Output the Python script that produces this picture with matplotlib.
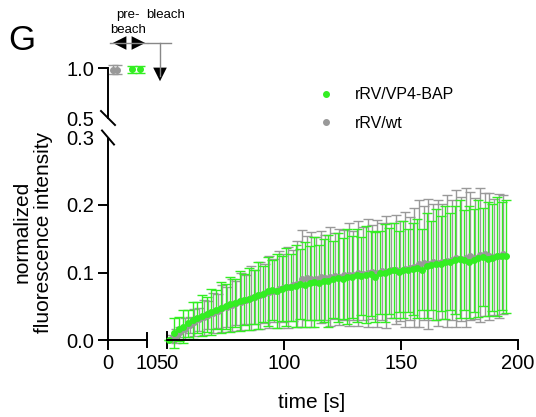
import numpy as np
import matplotlib
matplotlib.use('Agg')
import matplotlib.pyplot as plt
from matplotlib.lines import Line2D
from matplotlib.patches import FancyArrowPatch

plt.rcParams['font.family'] = ['Liberation Sans', 'DejaVu Sans']

# pre-bleach values (two frames per construct)
pre_t_wt = [1.3, 2.3]
pre_y_wt = [0.985, 0.985]
pre_e_wt = [0.045, 0.045]
pre_t_bap = [6.2, 8.2]
pre_y_bap = [0.99, 0.99]
pre_e_bap = [0.035, 0.035]

# recovery after bleach, rRV/VP4-BAP
t_bap = list(range(51, 196, 2))
y_bap = [0.000, 0.010, 0.016, 0.020, 0.025, 0.029, 0.033, 0.036, 0.038, 0.042,
         0.045, 0.048, 0.050, 0.053, 0.055, 0.058, 0.060, 0.061, 0.064, 0.066,
         0.068, 0.072, 0.074, 0.073, 0.076, 0.079, 0.078, 0.080, 0.083, 0.082,
         0.084, 0.086, 0.085, 0.088, 0.087, 0.090, 0.092, 0.091, 0.094, 0.093,
         0.096, 0.095, 0.097, 0.098, 0.093, 0.100, 0.099, 0.102, 0.103, 0.101,
         0.104, 0.103, 0.105, 0.106, 0.104, 0.110, 0.111, 0.112, 0.113, 0.115,
         0.116, 0.118, 0.120, 0.119, 0.116, 0.118, 0.121, 0.123, 0.120, 0.122,
         0.124, 0.125, 0.124]
e_bap = [0.000, 0.022, 0.018, 0.024, 0.020, 0.028, 0.023, 0.030, 0.026, 0.034,
         0.029, 0.038, 0.033, 0.041, 0.035, 0.044, 0.038, 0.046, 0.040, 0.049,
         0.042, 0.051, 0.045, 0.055, 0.048, 0.058, 0.050, 0.061, 0.052, 0.063,
         0.055, 0.066, 0.056, 0.062, 0.068, 0.057, 0.066, 0.060, 0.071, 0.061,
         0.069, 0.058, 0.072, 0.063, 0.067, 0.061, 0.073, 0.064, 0.070, 0.060,
         0.072, 0.062, 0.068, 0.074, 0.060, 0.078, 0.066, 0.082, 0.070, 0.084,
         0.072, 0.080, 0.088, 0.074, 0.083, 0.076, 0.087, 0.073, 0.085, 0.079,
         0.088, 0.080, 0.084]

# recovery after bleach, rRV/wt
t_wt = [51.7 + 2 * i for i in range(72)]
y_wt = [0.002, 0.006, 0.012, 0.017, 0.022, 0.026, 0.031, 0.034, 0.037, 0.040,
        0.043, 0.047, 0.049, 0.052, 0.055, 0.057, 0.060, 0.062, 0.064, 0.066,
        0.069, 0.071, 0.073, 0.075, 0.077, 0.078, 0.081, 0.083, 0.091, 0.092,
        0.090, 0.091, 0.093, 0.092, 0.094, 0.095, 0.093, 0.096, 0.097, 0.096,
        0.099, 0.098, 0.100, 0.101, 0.099, 0.102, 0.101, 0.103, 0.104, 0.102,
        0.105, 0.106, 0.108, 0.113, 0.114, 0.113, 0.115, 0.114, 0.116, 0.117,
        0.119, 0.121, 0.120, 0.122, 0.124, 0.121, 0.126, 0.127, 0.124, 0.123,
        0.125, 0.127]
e_wt = [0.005, 0.010, 0.008, 0.015, 0.012, 0.020, 0.017, 0.026, 0.021, 0.030,
        0.025, 0.035, 0.029, 0.038, 0.033, 0.042, 0.036, 0.047, 0.040, 0.050,
        0.044, 0.053, 0.047, 0.057, 0.050, 0.060, 0.053, 0.064, 0.072, 0.062,
        0.070, 0.061, 0.068, 0.063, 0.073, 0.064, 0.071, 0.067, 0.076, 0.066,
        0.078, 0.069, 0.080, 0.070, 0.079, 0.072, 0.083, 0.071, 0.081, 0.074,
        0.085, 0.076, 0.088, 0.094, 0.084, 0.096, 0.086, 0.093, 0.085, 0.098,
        0.089, 0.101, 0.092, 0.103, 0.095, 0.090, 0.099, 0.091, 0.094, 0.086,
        0.092, 0.088]

green = '#33ee22'
gray = '#999999'
W, H = 536, 417


def box(x0, y0, x1, y1):
    # pixel box (top-left origin) -> figure fraction rect
    return [x0 / W, (H - y1) / H, (x1 - x0) / W, (y1 - y0) / H]


def fp(x, y):
    return (x / W, (H - y) / H)


fig = plt.figure(figsize=(5.36, 4.17), dpi=100)
ax_up = fig.add_axes(box(108, 68, 147, 118))
ax_ll = fig.add_axes(box(108, 137.5, 147, 340))
ax_lr = fig.add_axes(box(167, 137.5, 518, 340))

eb = dict(fmt='o', ms=4, capsize=3.5, elinewidth=1.0, capthick=1.0, clip_on=False)
ax_up.errorbar(pre_t_wt, pre_y_wt, yerr=pre_e_wt, color=gray, **eb)
ax_up.errorbar(pre_t_bap, pre_y_bap, yerr=pre_e_bap, color=green, **eb)
ax_lr.errorbar(t_wt, y_wt, yerr=e_wt, color=gray, **eb)
ax_lr.errorbar(t_bap, y_bap, yerr=e_bap, color=green, **eb)

lw = 1.4
for ax in (ax_up, ax_ll, ax_lr):
    for s in ax.spines.values():
        s.set_visible(False)
        s.set_linewidth(lw)
    ax.tick_params(width=lw, length=7, labelsize=14.5, pad=3)
    ax.patch.set_alpha(0)

ax_up.spines['left'].set_visible(True)
ax_up.set_xlim(0, 10)
ax_up.set_ylim(0.5, 1.0)
ax_up.set_xticks([])
ax_up.set_yticks([0.5, 1.0], ['0.5', '1.0'])
ax_up.yaxis.get_major_ticks()[0].tick1line.set_visible(False)

ax_ll.spines['left'].set_visible(True)
ax_ll.spines['bottom'].set_visible(True)
ax_ll.set_xlim(0, 10)
ax_ll.set_ylim(0, 0.3)
ax_ll.set_xticks([0, 10], ['0', '10'])
ax_ll.set_yticks([0, 0.1, 0.2, 0.3], ['0.0', '0.1', '0.2', '0.3'])
ax_ll.xaxis.get_major_ticks()[1].tick1line.set_visible(False)
ax_ll.yaxis.get_major_ticks()[3].tick1line.set_visible(False)

ax_lr.spines['bottom'].set_visible(True)
ax_lr.set_xlim(50, 200)
ax_lr.set_ylim(0, 0.3)
ax_lr.set_yticks([])
ax_lr.set_xticks([50, 100, 150, 200], ['50', '100', '150', '200'])
ax_lr.xaxis.get_major_ticks()[0].tick1line.set_visible(False)

# axis break marks
brk = dict(color='black', lw=lw, clip_on=False)
ax_up.plot([-7 / 39, 7 / 39], [7 / 50, -7 / 50], transform=ax_up.transAxes, **brk)
ax_ll.plot([-6 / 39, 6 / 39], [1 + 7 / 202, 1 - 7 / 202], transform=ax_ll.transAxes, **brk)
ax_ll.plot([1, 1], [-7 / 202, 7 / 202], transform=ax_ll.transAxes, **brk)
ax_lr.plot([0, 0], [-8 / 202, 8 / 202], transform=ax_lr.transAxes, **brk)

# labels
fig.text(*fp(33, 232), 'normalized\nfluorescence intensity', rotation=90,
         ha='center', va='center', fontsize=15, linespacing=1.2)
fig.text(*fp(312, 402), 'time [s]', ha='center', va='center', fontsize=15)
fig.text(*fp(22, 40), 'G', ha='center', va='center', fontsize=25)

# pre-bleach / bleach annotation
fig.text(*fp(128, 15), 'pre-', ha='center', va='center', fontsize=9.5)
fig.text(*fp(128, 30), 'beach', ha='center', va='center', fontsize=9.5)
fig.text(*fp(166, 15), 'bleach', ha='center', va='center', fontsize=9.5)
fig.add_artist(Line2D([110 / W, 147 / W], [fp(0, 43)[1]] * 2, color='#888888', lw=1))
fig.add_artist(Line2D([148 / W, 171 / W], [fp(0, 43)[1]] * 2, color='#888888', lw=1))
fig.add_artist(Line2D([160 / W, 160 / W], [fp(0, 43)[1], fp(0, 76)[1]], color='#888888', lw=1))
fig.add_artist(FancyArrowPatch(
    fp(110, 43), fp(148, 43), transform=fig.transFigure,
    arrowstyle='<|-|>,head_length=0.7,head_width=0.35', mutation_scale=14,
    color='black', lw=0))
fig.add_artist(FancyArrowPatch(
    fp(160, 70), fp(160, 84), transform=fig.transFigure,
    arrowstyle='-|>,head_length=0.7,head_width=0.35', mutation_scale=14,
    color='black', lw=0))

# legend
handles = [Line2D([], [], marker='o', ls='none', color=green, ms=4),
           Line2D([], [], marker='o', ls='none', color=gray, ms=4)]
fig.legend(handles, ['rRV/VP4-BAP', 'rRV/wt'], loc='upper left',
           bbox_to_anchor=fp(312, 81), frameon=False, fontsize=11.5,
           handlelength=1.0, handletextpad=1.3, labelspacing=0.85, borderaxespad=0)

fig.savefig('out.png', dpi=100)
